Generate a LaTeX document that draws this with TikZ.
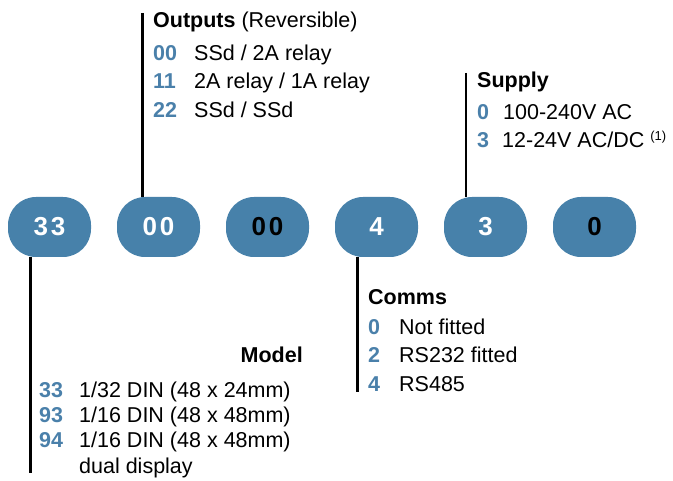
\documentclass[tikz,border=0pt]{standalone}
\usepackage{fontspec}
\setmainfont{Liberation Sans}
\usetikzlibrary{calc}
\definecolor{pillblue}{RGB}{71,129,170}
\definecolor{codeblue}{RGB}{74,128,170}
\begin{document}
\begin{tikzpicture}[x=1pt,y=-1pt,
  pill/.style={rectangle,rounded corners=28pt,fill=pillblue,minimum width=83pt,minimum height=60pt,inner sep=0pt,
    font=\fontsize{26}{30}\selectfont\bfseries},
  lbl/.style={anchor=base west,inner sep=0pt,font=\fontsize{21.5}{26}\selectfont},
  code/.style={lbl,text=codeblue,font=\fontsize{21.5}{26}\selectfont\bfseries},
  conn/.style={line width=2.6pt,black}]
\useasboundingbox (0,0) rectangle (673,481);
% pills
\node[pill,text=white] (p1) at (49.5,227) {3\kern3pt 3};
\node[pill,text=white] (p2) at (158.5,227) {0\kern3pt 0};
\node[pill,text=black] (p3) at (267.5,227) {0\kern3pt 0};
\node[pill,text=white] (p4) at (376.5,227) {4};
\node[pill,text=white] (p5) at (485.5,227) {3};
\node[pill,text=black] (p6) at (594.5,227) {0};
% connector ends
\coordinate (c2) at (142.5,13);
\coordinate (c5) at (466,73);
\coordinate (c1) at (30.5,473);
\coordinate (c4) at (357.5,392);
\draw[conn] (c2) -- (c2 |- p2.north);
\draw[conn] (c5) -- (c5 |- p5.north);
\draw[conn] (c1 |- p1.south) -- (c1);
\draw[conn] (c4 |- p4.south) -- (c4);
% Outputs
\node[lbl] (oh) at (153,28) {\textbf{Outputs} (Reversible)};
\node[code] (o1c) at (153,61) {00};
\node[lbl] (o1t) at (194,61) {SSd / 2A relay};
\node[code] (o2c) at (153,89) {11};
\node[lbl] (o2t) at (194,89) {2A relay / 1A relay};
\node[code] (o3c) at (153,118) {22};
\node[lbl] (o3t) at (194,118) {SSd / SSd};
% Supply
\node[lbl] (sh) at (477,88) {\textbf{Supply}};
\node[code] (s1c) at (477,120) {0};
\node[lbl] (s1t) at (503,120) {100-240V AC};
\node[code] (s2c) at (477,148) {3};
\node[lbl] (s2t) at (502,148) {12-24V AC/DC \raisebox{7pt}{\fontsize{13}{15}\selectfont (1)}};
% Model
\node[lbl,anchor=base east] (mh) at (303,363) {\textbf{Model}};
\node[code] (m1c) at (39,398) {33};
\node[lbl] (m1t) at (79,398) {1/32 DIN (48 x 24mm)};
\node[code] (m2c) at (39,423) {93};
\node[lbl] (m2t) at (79,423) {1/16 DIN (48 x 48mm)};
\node[code] (m3c) at (39,448) {94};
\node[lbl] (m3t) at (79,448) {1/16 DIN (48 x 48mm)};
\node[lbl] (m4t) at (79,474) {dual display};
% Comms
\node[lbl] (ch) at (368,305) {\textbf{Comms}};
\node[code] (c1c) at (368,335) {0};
\node[lbl] (c1t) at (399,335) {Not fitted};
\node[code] (c2c) at (368,363) {2};
\node[lbl] (c2t) at (399,363) {RS232 fitted};
\node[code] (c3c) at (368,392) {4};
\node[lbl] (c3t) at (399,392) {RS485};
\end{tikzpicture}
\end{document}
